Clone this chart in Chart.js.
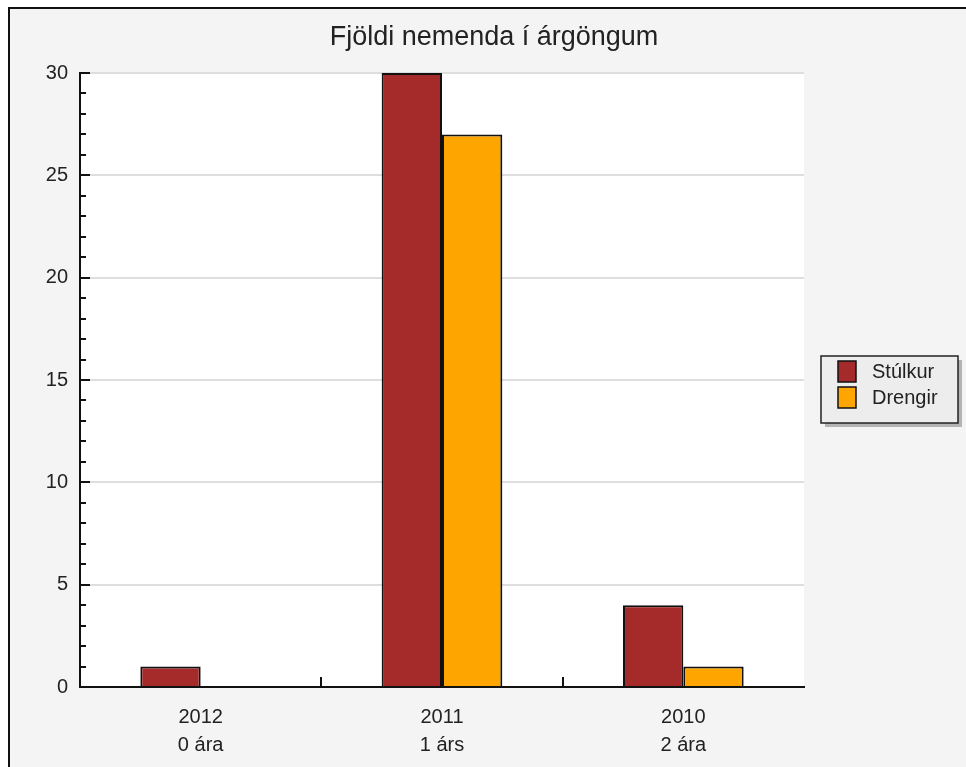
<!DOCTYPE html>
<html>
<head>
<meta charset="utf-8">
<title>Fjöldi nemenda í árgöngum</title>
<script src="https://cdn.jsdelivr.net/npm/chart.js@4"></script>
<style>
  body { margin: 0; background: #fff; overflow: hidden; }
  #frame { position: absolute; left: 8px; top: 7px; width: 1000px; height: 800px;
    border-left: 2px solid #111; border-top: 2px solid #111; background: #f4f4f4; }
  #wrap { position: absolute; left: 0; top: 0; width: 966px; height: 767px; }
</style>
</head>
<body>
<div id="frame"></div>
<div id="wrap"><canvas id="myChart" width="966" height="767"></canvas></div>
<script>
// DATA
var years = ['2012', '2011', '2010'];
var ages = ['0 ára', '1 árs', '2 ára'];
var girls = [1, 30, 4];
var boys = [0, 27, 1];
var yTicks = [0, 5, 10, 15, 20, 25, 30];

var labels = [];
for (var i = 0; i < years.length; i++) {
  labels.push([years[i], ages[i]]);
}

var fontFamily = '"Liberation Sans", Arial, Helvetica, sans-serif';

// white plot area
var plotBackground = {
  id: 'plotBackground',
  beforeDraw: function(chart) {
    var a = chart.chartArea;
    var ctx = chart.ctx;
    ctx.save();
    ctx.fillStyle = '#ffffff';
    ctx.fillRect(a.left, a.top, a.right - a.left, a.bottom - a.top);
    ctx.restore();
  }
};

// small tick marks pointing into the plot
var tickMarks = {
  id: 'tickMarks',
  afterDraw: function(chart) {
    var ctx = chart.ctx;
    var a = chart.chartArea;
    var y = chart.scales.y;
    var x = chart.scales.x;
    ctx.save();
    ctx.strokeStyle = '#111';
    ctx.lineWidth = 2;
    ctx.beginPath();
    y.ticks.forEach(function(t) {
      var py = Math.round(y.getPixelForValue(t.value));
      var len = yTicks.indexOf(t.value) >= 0 ? 10 : 6;
      ctx.moveTo(a.left, py);
      ctx.lineTo(a.left + len, py);
    });
    for (var i = 1; i < years.length; i++) {
      var px = Math.round((x.getPixelForValue(i - 1) + x.getPixelForValue(i)) / 2);
      ctx.moveTo(px, a.bottom);
      ctx.lineTo(px, a.bottom - 10);
    }
    ctx.stroke();
    ctx.restore();
  }
};

// legend box with shadow on the right
var legendBox = {
  id: 'legendBox',
  afterDraw: function(chart) {
    var ctx = chart.ctx;
    var sets = chart.data.datasets;
    var bx = chart.chartArea.right + 17;
    var by = 356;
    var bw = 137;
    var bh = 67;
    ctx.save();
    ctx.fillStyle = '#b4b4b4';
    ctx.fillRect(bx + 4, by + 4, bw, bh);
    ctx.fillStyle = '#ededed';
    ctx.fillRect(bx, by, bw, bh);
    ctx.strokeStyle = '#222';
    ctx.lineWidth = 1.5;
    ctx.strokeRect(bx, by, bw, bh);
    ctx.font = '20px ' + fontFamily;
    ctx.textBaseline = 'middle';
    ctx.textAlign = 'left';
    for (var i = 0; i < sets.length; i++) {
      var sy = by + 5 + i * 26;
      ctx.fillStyle = sets[i].backgroundColor;
      ctx.fillRect(bx + 17, sy, 18, 21);
      ctx.strokeStyle = '#111';
      ctx.strokeRect(bx + 17, sy, 18, 21);
      ctx.fillStyle = '#222';
      ctx.fillText(sets[i].label, bx + 51, sy + 11);
    }
    ctx.restore();
  }
};

var ctx = document.getElementById('myChart').getContext('2d');

var myChart = new Chart(ctx, {
  type: 'bar',
  data: {
    labels: labels,
    datasets: [{
      label: 'Stúlkur',
      data: girls,
      backgroundColor: '#a52a2a',
      borderColor: '#111',
      borderWidth: 2
    }, {
      label: 'Drengir',
      data: boys,
      backgroundColor: '#ffa500',
      borderColor: '#111',
      borderWidth: 2
    }]
  },
  options: {
    responsive: false,
    animation: false,
    categoryPercentage: 0.5,
    barPercentage: 1.0,
    layout: {
      padding: { left: 22, right: 0, top: 0, bottom: 0 }
    },
    plugins: {
      legend: { display: false },
      tooltip: { enabled: false },
      title: {
        display: true,
        text: 'Fjöldi nemenda í árgöngum',
        color: '#222',
        font: { family: fontFamily, size: 27, weight: 'normal', lineHeight: 1.2 },
        padding: { top: 21, bottom: 19.6 }
      }
    },
    scales: {
      x: {
        grid: { display: true, drawOnChartArea: false, drawTicks: false },
        border: { color: '#111', width: 2 },
        ticks: {
          color: '#222',
          padding: 16,
          maxRotation: 0,
          font: { family: fontFamily, size: 20, lineHeight: 1.4 }
        },
        afterFit: function(scale) { scale.height = 80; }
      },
      y: {
        min: 0,
        max: 30,
        grid: {
          drawTicks: false,
          lineWidth: 2,
          color: function(c) {
            return c.tick && yTicks.indexOf(c.tick.value) >= 0 ? '#dedede' : 'rgba(0,0,0,0)';
          }
        },
        border: { color: '#111', width: 2 },
        ticks: {
          stepSize: 1,
          autoSkip: false,
          padding: 12,
          color: '#222',
          font: { family: fontFamily, size: 20 },
          callback: function(v) {
            return yTicks.indexOf(v) >= 0 ? String(v) : '';
          }
        },
        afterFit: function(scale) { scale.width = 58; }
      },
      // empty space on the right for the legend
      side: {
        position: 'right',
        grid: { display: false },
        border: { display: false },
        ticks: { display: false },
        afterFit: function(scale) { scale.width = 162; }
      }
    }
  },
  plugins: [plotBackground, tickMarks, legendBox]
});
</script>
</body>
</html>
